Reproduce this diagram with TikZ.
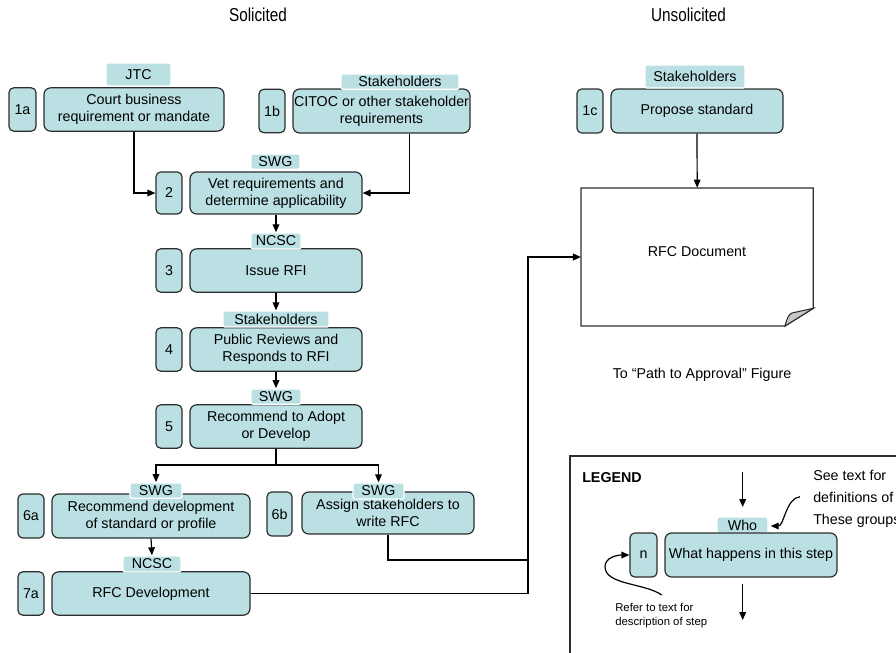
\documentclass[tikz,border=0pt]{standalone}
\usepackage{fontspec}
\setmainfont{Liberation Sans}
\newfontfamily\titlefont[FakeStretch=0.82]{Liberation Sans}
\usetikzlibrary{arrows.meta}
\definecolor{boxfill}{RGB}{186,224,227}
\definecolor{boxline}{RGB}{45,45,45}
\definecolor{foldgray}{RGB}{200,200,200}
\begin{document}
\begin{tikzpicture}[x=0.75pt,y=-0.75pt,
  font=\fontsize{10.7}{13}\selectfont,
  numbox/.style={draw=boxline, fill=boxfill, line width=0.9pt, rounded corners=3.5pt,
    inner sep=0pt, minimum width=19.5pt, minimum height=32.5pt, align=center},
  stepbox/.style={numbox, rounded corners=5pt, minimum width=#1},
  who/.style={fill=boxfill, draw=white, line width=1pt, rounded corners=1.5pt,
    inner sep=0pt, minimum height=11.5pt, minimum width=#1},
  conn/.style={draw=black, line width=0.9pt},
  arr/.style={conn, -{Triangle[length=6pt,width=5pt]}},
  plain/.style={inner sep=0pt, align=left}
]
\useasboundingbox (0,0) rectangle (896,653);

% titles
\node[font=\titlefont\fontsize{14}{16}\selectfont] (tsol) at (258,15) {Solicited};
\node[font=\titlefont\fontsize{14}{16}\selectfont] (tuns) at (688.5,15) {Unsolicited};

% 1a
\node[numbox, minimum width=20.25pt] (n1a) at (22.5,109.5) {1a};
\node[stepbox=135pt] (m1a) at (134,109.5) {Court business\\requirement or mandate};
\node[who=48.75pt, minimum height=17.25pt] (w1a) at (138.5,74.5) {JTC};

% 1b
\node[numbox] (n1b) at (272,111) {1b};
\node[stepbox=132.75pt, minimum height=33pt] (m1b) at (381.5,111) {CITOC or other stakeholder\\requirements};
\node[who=88.5pt] (w1b) at (400,81.5) {Stakeholders};

% 2
\node[numbox, minimum height=31.5pt] (n2) at (169,193) {2};
\node[stepbox=129pt, minimum height=31.5pt] (m2) at (276,193) {Vet requirements and\\determine applicability};
\node[who=36.75pt] (w2) at (275.5,161.5) {SWG};

% 3
\node[numbox] (n3) at (169,270.5) {3};
\node[stepbox=129pt] (m3) at (276,270.5) {Issue RFI};
\node[who=37.5pt, minimum height=12pt] (w3) at (276,241) {NCSC};

% 4
\node[numbox] (n4) at (169,349.5) {4};
\node[stepbox=129pt] (m4) at (276,349.5) {Public Reviews and\\Responds to RFI};
\node[who=79.5pt, minimum height=12pt] (w4) at (276,319) {Stakeholders};

% 5
\node[numbox] (n5) at (169,426.5) {5};
\node[stepbox=129pt] (m5) at (276,426.5) {Recommend to Adopt\\or Develop};
\node[who=37.5pt] (w5) at (276,396.5) {SWG};

% 6a
\node[numbox, minimum height=33pt] (n6a) at (31,516) {6a};
\node[stepbox=148.5pt, minimum height=33pt] (m6a) at (151,516) {Recommend development\\of standard or profile};
\node[who=39pt] (w6a) at (156,490.5) {SWG};

% 6b
\node[numbox, minimum width=18.75pt, minimum height=33pt] (n6b) at (279.5,514) {6b};
\node[stepbox=129pt, minimum height=31.5pt] (m6b) at (388,513) {Assign stakeholders to\\write RFC};
\node[who=38.25pt, minimum height=12pt] (w6b) at (378.5,491) {SWG};

% 7a
\node[numbox] (n7a) at (31,593.5) {7a};
\node[stepbox=148.5pt] (m7a) at (151,593.5) {RFC Development};
\node[who=43.5pt, minimum height=12pt] (w7a) at (152,564) {NCSC};

% 1c
\node[numbox, minimum height=33pt] (n1c) at (590,111) {1c};
\node[stepbox=129pt, minimum height=33pt] (m1c) at (697,111) {Propose standard};
\node[who=75pt, minimum height=17.25pt] (w1c) at (695,76.5) {Stakeholders};

% RFC document
\node[minimum width=174pt, minimum height=103.5pt, inner sep=0pt] (doc) at (697.2,257) {};
\draw[line width=0.9pt, draw=boxline, fill=white] (581,188) -- (813.3,188) -- (813.3,308.3) -- (785,326) -- (581,326) -- cycle;
\draw[line width=0.8pt, draw=boxline, fill=foldgray] (785,326) .. controls (787,318) and (789,314) .. (792,313) -- (813.3,308.3) -- cycle;
\node (doctxt) at (697,252) {RFC Document};
\node (toapp) at (702,375) {To “Path to Approval” Figure};

% connectors
\draw[arr] (m1a.south) |- (n2.west);
\draw[arr] ([xshift=20.85pt]m1b.south) |- (m2.east);
\draw[arr] (m2.south) -- (w3.north);
\draw[arr] (m3.south) -- (w4.north);
\draw[arr] (m4.south) -- (w5.north);
\coordinate (br) at (276,465);
\draw[conn] (m5.south) -- (br);
\draw[arr] (br) -| (w6a.north);
\draw[arr] (br) -| (w6b.north);
\draw[arr] (m6a.south) -- (w7a.north);
\coordinate (jx) at (527.7,560);
\draw[conn] (m6b.south) |- (jx);
\draw[arr, line width=1.2pt] (m7a.east) -| (jx) |- (doc.west);
\draw[arr] (m1c.south) -- (doc.north);

% legend
\draw[line width=0.8pt, draw=boxline] (570,456) rectangle (900,660);
\node[plain, anchor=west, font=\fontsize{10.7}{13}\selectfont\bfseries] (leg) at (582,478) {LEGEND};
\coordinate (la1) at (742.7,472);
\coordinate (la2) at (742.7,507);
\draw[arr] (la1) -- (la2);
\node[who=38.25pt, minimum height=12pt] (wwho) at (742.5,525) {Who};
\node[numbox, minimum width=20.25pt, minimum height=33pt] (nn) at (643.5,555) {n};
\node[stepbox=129pt, minimum height=33pt] (mn) at (751,555) {What happens in this step};
\coordinate (lb1) at (742.7,584);
\coordinate (lb2) at (742.7,620);
\draw[arr] (lb1) -- (lb2);
\node[plain, anchor=west, font=\fontsize{10.7}{16.3}\selectfont] (seetxt) at (813,499) {See text for\\definitions of\\These groups};
\coordinate (ca1) at (800,496.7);
\coordinate (ca2) at (770.7,526);
\draw[arr] (ca1) .. controls (786,498) and (784,526) .. (ca2);
\coordinate (cb1) at (661.7,595);
\draw[arr] (cb1) .. controls (645,583) and (605,585) .. (605,566.7) .. controls (605,557) and (618,555) .. (nn.west);
\node[plain, anchor=west, font=\fontsize{8.5}{10.5}\selectfont] (refer) at (615,616) {Refer to text for\\description of step};
\end{tikzpicture}
\end{document}
